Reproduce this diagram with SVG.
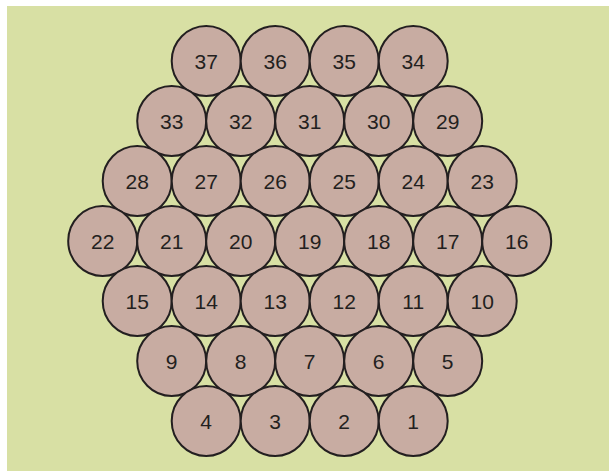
<svg xmlns="http://www.w3.org/2000/svg" width="609" height="471" viewBox="0 0 609 471">
<style>
.n ellipse{fill:#c8aca2;stroke:#231f20;stroke-width:2}
.n text{font-family:"Liberation Sans",Arial,sans-serif;font-size:21px;fill:#231f20;text-anchor:middle}
</style>
<rect x="0" y="0" width="609" height="471" fill="#ffffff"/>
<rect x="7" y="6" width="602" height="465" fill="#d8e0a4"/>
<g id="connectors"></g>
<g class="n">
<g id="n37"><ellipse cx="206.2" cy="61" rx="34.5" ry="35"/><text x="206.2" y="69">37</text></g>
<g id="n36"><ellipse cx="275.2" cy="61" rx="34.5" ry="35"/><text x="275.2" y="69">36</text></g>
<g id="n35"><ellipse cx="344.2" cy="61" rx="34.5" ry="35"/><text x="344.2" y="69">35</text></g>
<g id="n34"><ellipse cx="413.2" cy="61" rx="34.5" ry="35"/><text x="413.2" y="69">34</text></g>
<g id="n33"><ellipse cx="171.7" cy="121" rx="34.5" ry="35"/><text x="171.7" y="129">33</text></g>
<g id="n32"><ellipse cx="240.7" cy="121" rx="34.5" ry="35"/><text x="240.7" y="129">32</text></g>
<g id="n31"><ellipse cx="309.7" cy="121" rx="34.5" ry="35"/><text x="309.7" y="129">31</text></g>
<g id="n30"><ellipse cx="378.7" cy="121" rx="34.5" ry="35"/><text x="378.7" y="129">30</text></g>
<g id="n29"><ellipse cx="447.7" cy="121" rx="34.5" ry="35"/><text x="447.7" y="129">29</text></g>
<g id="n28"><ellipse cx="137.2" cy="181" rx="34.5" ry="35"/><text x="137.2" y="189">28</text></g>
<g id="n27"><ellipse cx="206.2" cy="181" rx="34.5" ry="35"/><text x="206.2" y="189">27</text></g>
<g id="n26"><ellipse cx="275.2" cy="181" rx="34.5" ry="35"/><text x="275.2" y="189">26</text></g>
<g id="n25"><ellipse cx="344.2" cy="181" rx="34.5" ry="35"/><text x="344.2" y="189">25</text></g>
<g id="n24"><ellipse cx="413.2" cy="181" rx="34.5" ry="35"/><text x="413.2" y="189">24</text></g>
<g id="n23"><ellipse cx="482.2" cy="181" rx="34.5" ry="35"/><text x="482.2" y="189">23</text></g>
<g id="n22"><ellipse cx="102.7" cy="241" rx="34.5" ry="35"/><text x="102.7" y="249">22</text></g>
<g id="n21"><ellipse cx="171.7" cy="241" rx="34.5" ry="35"/><text x="171.7" y="249">21</text></g>
<g id="n20"><ellipse cx="240.7" cy="241" rx="34.5" ry="35"/><text x="240.7" y="249">20</text></g>
<g id="n19"><ellipse cx="309.7" cy="241" rx="34.5" ry="35"/><text x="309.7" y="249">19</text></g>
<g id="n18"><ellipse cx="378.7" cy="241" rx="34.5" ry="35"/><text x="378.7" y="249">18</text></g>
<g id="n17"><ellipse cx="447.7" cy="241" rx="34.5" ry="35"/><text x="447.7" y="249">17</text></g>
<g id="n16"><ellipse cx="516.7" cy="241" rx="34.5" ry="35"/><text x="516.7" y="249">16</text></g>
<g id="n15"><ellipse cx="137.2" cy="301" rx="34.5" ry="35"/><text x="137.2" y="309">15</text></g>
<g id="n14"><ellipse cx="206.2" cy="301" rx="34.5" ry="35"/><text x="206.2" y="309">14</text></g>
<g id="n13"><ellipse cx="275.2" cy="301" rx="34.5" ry="35"/><text x="275.2" y="309">13</text></g>
<g id="n12"><ellipse cx="344.2" cy="301" rx="34.5" ry="35"/><text x="344.2" y="309">12</text></g>
<g id="n11"><ellipse cx="413.2" cy="301" rx="34.5" ry="35"/><text x="413.2" y="309">11</text></g>
<g id="n10"><ellipse cx="482.2" cy="301" rx="34.5" ry="35"/><text x="482.2" y="309">10</text></g>
<g id="n9"><ellipse cx="171.7" cy="361" rx="34.5" ry="35"/><text x="171.7" y="369">9</text></g>
<g id="n8"><ellipse cx="240.7" cy="361" rx="34.5" ry="35"/><text x="240.7" y="369">8</text></g>
<g id="n7"><ellipse cx="309.7" cy="361" rx="34.5" ry="35"/><text x="309.7" y="369">7</text></g>
<g id="n6"><ellipse cx="378.7" cy="361" rx="34.5" ry="35"/><text x="378.7" y="369">6</text></g>
<g id="n5"><ellipse cx="447.7" cy="361" rx="34.5" ry="35"/><text x="447.7" y="369">5</text></g>
<g id="n4"><ellipse cx="206.2" cy="421" rx="34.5" ry="35"/><text x="206.2" y="429">4</text></g>
<g id="n3"><ellipse cx="275.2" cy="421" rx="34.5" ry="35"/><text x="275.2" y="429">3</text></g>
<g id="n2"><ellipse cx="344.2" cy="421" rx="34.5" ry="35"/><text x="344.2" y="429">2</text></g>
<g id="n1"><ellipse cx="413.2" cy="421" rx="34.5" ry="35"/><text x="413.2" y="429">1</text></g>
</g>
</svg>
